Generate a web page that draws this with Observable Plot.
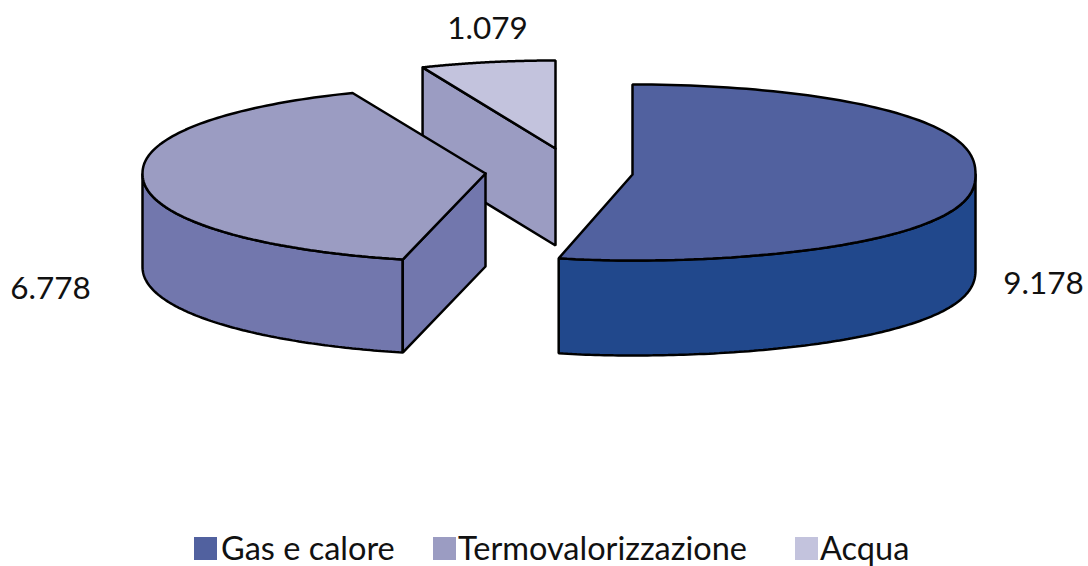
<!DOCTYPE html>
<html><head><meta charset="utf-8">
<script src="https://cdn.jsdelivr.net/npm/d3@7"></script>
<script src="https://cdn.jsdelivr.net/npm/@observablehq/plot@0.6"></script>
<style>
html,body{margin:0;padding:0;background:#fff}
#legend{position:relative;height:36px;font-family:Lato,sans-serif;font-size:32.5px;color:#111}
#legend span{position:absolute;top:0;white-space:nowrap;line-height:36px}
#legend i{position:absolute;top:7px;width:23px;height:23px}
</style></head><body>
<div id="chart"></div><div id="legend"></div>
<script>
const categories = ["Gas e calore", "Termovalorizzazione", "Acqua"];
const values = [9178, 6778, 1079];
const topColors = ["#51619f", "#9b9cc2", "#c3c3dd"];
const sideColors = ["#21488c", "#7277ad", "#9b9cc2"];
const centersX = [632, 485, 555];
const centersY = [174, 173, 148];
const labelDX = [411, -435, -68];
const labelDY = [109, 115, -120];
const legendX = [194, 433, 795];
const legendTextX = [221, 458, 820];
const rimExp = [0.85, 0.95, 1];
const ryTop = [90, 87, 88];
const ryBottom = [86, 88.5, 87];
const rxLeft = [306, 343, 343];
const depths = [95, 93, 97];

const RX = 343;
const total = d3.sum(values);
let acc = 0;
const slices = categories.map((name, i) => {
  const a0 = acc / total * 2 * Math.PI;
  acc += values[i];
  return {name, i, value: values[i], a0, a1: acc / total * 2 * Math.PI, cx: centersX[i], cy: centersY[i]};
});
const rim = (s, a, d = 0) => {
  const sn = Math.sin(a), cs = Math.cos(a);
  const rx = sn < 0 ? rxLeft[s.i] : RX;
  const ry = cs > 0 ? ryTop[s.i] : ryBottom[s.i];
  return {x: s.cx + rx * sn, y: s.cy - ry * Math.sign(cs) * Math.abs(cs) ** rimExp[s.i] + d};
};
const arc = (s, a0, a1, d = 0) => d3.range(0, 121).map(k => rim(s, a0 + (a1 - a0) * k / 120, d));
const close = pts => [...pts, pts[0]];
const apex = (s, d = 0) => ({x: s.cx, y: s.cy + d});
const face = (pts, fill) => Plot.line(close(pts), {x: "x", y: "y", fill, stroke: "#000", strokeWidth: 2.5, strokeLinejoin: "miter", curve: "linear"});

function marks(s) {
  const m = [];
  const d = depths[s.i];
  const top = [apex(s), ...arc(s, s.a0, s.a1)];
  if (s.i === 2) {
    m.push(face([rim(s, s.a0), apex(s), apex(s, d), rim(s, s.a0, d)], sideColors[2]));
  }
  if (s.i === 1) {
    const low = 1.5 * Math.PI;
    m.push(face([...arc(s, s.a0, low), ...arc(s, low, s.a0, d)], sideColors[1]));
    m.push(face([apex(s), rim(s, s.a0), rim(s, s.a0, d), apex(s, d)], sideColors[1]));
  }
  if (s.i === 0) {
    const right = 0.5 * Math.PI;
    m.push(face([...arc(s, right, s.a1), ...arc(s, s.a1, right, d)], sideColors[0]));
  }
  m.push(face(top, topColors[s.i]));
  return m;
}

const fmt = d3.formatLocale({decimal: ",", thousands: ".", grouping: [3], currency: ["", ""]}).format(",d");
const labels = slices.map(s => ({x: s.cx + labelDX[s.i], y: s.cy + labelDY[s.i], text: fmt(s.value)}));

const plot = Plot.plot({
  width: 1088, height: 530,
  margin: 0,
  x: {domain: [0, 1088], range: [0, 1088], axis: null},
  y: {domain: [0, 530], range: [0, 530], axis: null},
  marks: [
    ...marks(slices[2]), ...marks(slices[1]), ...marks(slices[0]),
    Plot.text(labels, {x: "x", y: "y", text: "text", fontSize: 31.5, fontFamily: "Lato, sans-serif", fill: "#111"})
  ]
});
plot.style.display = "block";
document.getElementById("chart").append(plot);

const legend = document.getElementById("legend");
categories.forEach((c, i) => {
  const sw = document.createElement("i");
  sw.style.left = legendX[i] + "px";
  sw.style.background = topColors[i];
  const t = document.createElement("span");
  t.style.left = legendTextX[i] + "px";
  t.textContent = c;
  legend.append(sw, t);
});
</script>
</body></html>
